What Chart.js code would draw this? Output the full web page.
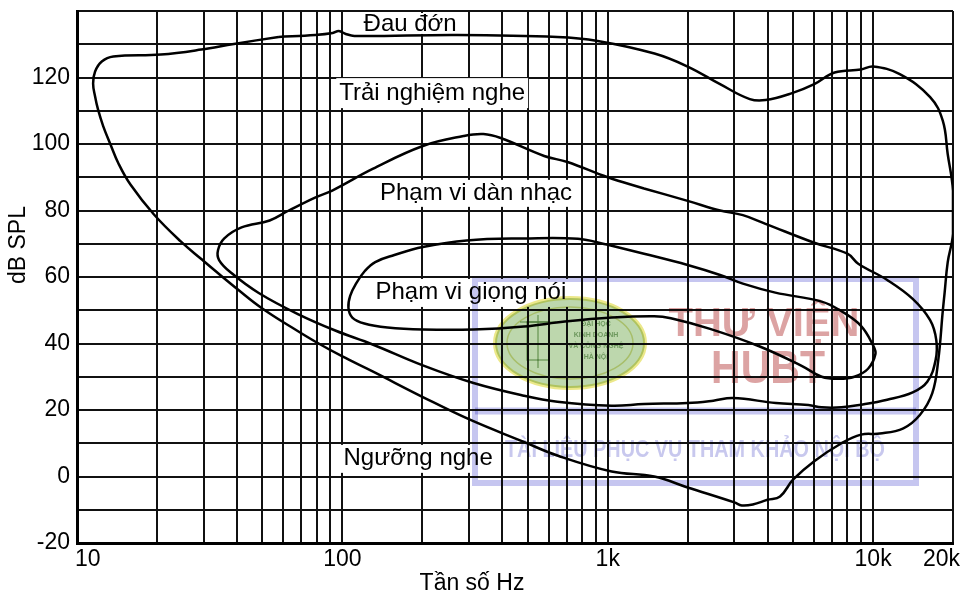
<!DOCTYPE html>
<html>
<head>
<meta charset="utf-8">
<script src="https://cdn.jsdelivr.net/npm/chart.js@4.4.0/dist/chart.umd.min.js"></script>
<style>
  html, body { margin: 0; padding: 0; background: #fff; }
  canvas { display: block; }
</style>
</head>
<body>
<canvas id="chart" width="966" height="595"></canvas>
<script>
const FONT = '"Liberation Sans", Arial, Helvetica, sans-serif';

// Logarithmic frequency grid (Hz) and the labelled frequencies
const xGridValues = [10, 20, 30, 40, 50, 60, 70, 80, 90,
  100, 200, 300, 400, 500, 600, 700, 800, 900,
  1000, 2000, 3000, 4000, 5000, 6000, 7000, 8000, 9000,
  10000, 20000];
const xTickValues = [10, 100, 1000, 10000, 20000];
const xTickLabels = ['10', '100', '1k', '10k', '20k'];
const yTickLabels = [-20, 0, 20, 40, 60, 80, 100, 120];

// Hearing area: threshold of pain on top, threshold of hearing below (Hz / dB SPL)
const hearingFreq = [57.5, 79, 92, 97, 103, 111, 270, 645, 916, 1500, 2000, 2650, 3430, 3930,
  4950, 6000, 7160, 9000, 10000, 12600, 16400, 18300, 19100, 20000, 20000, 19100, 18600,
  18300, 17600, 16700, 15000, 13000, 10600, 9000, 7600, 6000, 5000, 4460, 4000, 3520, 3200,
  3000, 2000, 1496, 1035, 646, 483, 304, 201, 130, 100, 78.9, 64.6, 49.6, 40.6, 32.9, 29.4,
  24.6, 19.5, 15.9, 14.3, 13.35, 12.55, 12.0, 11.7, 11.5, 11.7, 12.4, 13.7, 20.7, 29.4, 39];
const hearingDb = [132.2, 132.8, 133.4, 134.0, 133.1, 132.5, 132.8, 132.2, 131, 127.2, 123.3, 118, 113.5, 113.2,
  115.3, 118, 121.5, 122.4, 123.3, 121, 114.1, 107, 97, 86, 73, 64.4, 55.3,
  49.7, 35, 25, 18.5, 14.5, 12.9, 12.6, 10, 4.6, -0.9, -6, -7, -8.4, -8.7,
  -7.8, -3.3, 0, 1.5, 6.3, 10.4, 17, 23.9, 31.6, 36.1, 40.6, 44.8, 50.7, 56.1, 62.1, 65.4,
  70.7, 78.8, 87.8, 94.3, 100, 105.4, 110.4, 114.3, 118.2, 121.8, 124.8, 126.3, 126.9, 128.4, 130.1];

// Orchestral music range
const musicFreq = [1370, 2000, 2650, 3230, 3930, 6000, 8000, 8790, 11300, 14100, 16400, 17300,
  17200, 16000, 14100, 11300, 9000, 7600, 6400, 5700, 4300, 2960, 2500, 2000, 1370, 1035, 646,
  483, 312, 201, 130, 94, 68.6, 48.4, 38.2, 34.3, 34.0, 35.9, 41.7, 53.2, 62.8, 78.9,
  91.6, 130, 201, 286, 340, 395, 576, 705, 1000];
const musicDb = [86.6, 82.9, 80, 78.6, 76, 70.3, 67, 64, 59.1, 53.4, 47, 41,
  35, 28.5, 25.3, 23.1, 21.6, 20.8, 20.8, 21.5, 22.1, 23.6, 22.8, 22.1, 21.8, 21.3, 22.5,
  24.3, 28.1, 33.4, 39.7, 43.9, 48.7, 55.2, 61.2, 65.1, 68.1, 71.6, 74.9, 77, 80, 83.9,
  86, 92.5, 99.4, 102.4, 103, 101.8, 96.4, 94.6, 90];

// Speech range
const speechFreq = [1000, 1370, 2000, 2650, 3230, 4280, 6400, 7600, 9000, 10000, 10200, 9570,
  8500, 7430, 6400, 5400, 3740, 2430, 1730, 1496, 1035, 689, 483, 312, 201, 148, 121, 109,
  105.4, 107, 113, 121.5, 133, 157, 201, 294, 483, 772];
const speechDb = [69.7, 67, 63.6, 60.6, 58, 55.3, 52.6, 49.7, 45.3, 39.4, 36.8, 32.4,
  30, 29.4, 30, 33.2, 39.1, 44.4, 47.6, 48.2, 47.8, 46.6, 45.1, 44.2, 44.2, 44.8, 46, 47.8,
  50.7, 54.3, 58.2, 61.8, 64.5, 66.6, 69, 71, 71.6, 71.5];

// Region names, placed at (frequency, level) of their baseline centre
const regionLabels = ['Đau đớn', 'Trải nghiệm nghe', 'Phạm vi dàn nhạc', 'Phạm vi giọng nói', 'Ngưỡng nghe'];
const regionLabelFreq = [180, 218, 319, 305, 193];
const regionLabelDb = [134, 113.2, 83.2, 53.4, 3.5];

function toPoints(freqs, levels) {
  return freqs.map((f, i) => ({ x: f, y: levels[i] }));
}
function closeLoop(points) {
  return points.concat([points[0]]);
}

const regionLabelPlugin = {
  id: 'regionLabels',
  beforeDatasetsDraw(chart) {
    const { ctx, chartArea, scales: { x, y } } = chart;
    ctx.save();
    ctx.font = '24px ' + FONT;
    ctx.textAlign = 'center';
    ctx.textBaseline = 'alphabetic';
    regionLabels.forEach((text, i) => {
      const px = x.getPixelForValue(regionLabelFreq[i]);
      const py = y.getPixelForValue(regionLabelDb[i]);
      const m = ctx.measureText(text);
      const top = Math.max(py - m.actualBoundingBoxAscent - 3, chartArea.top + 2);
      const bottom = py + m.actualBoundingBoxDescent + 3;
      ctx.fillStyle = '#fff';
      ctx.fillRect(px - m.width / 2 - 3, top, m.width + 6, bottom - top);
      ctx.fillStyle = '#000';
      ctx.fillText(text, px, py);
    });
    ctx.restore();
  }
};

const axisTextPlugin = {
  id: 'axisText',
  afterDraw(chart) {
    const { ctx, scales: { x } } = chart;
    ctx.save();
    ctx.fillStyle = '#000';
    ctx.font = '23px ' + FONT;
    ctx.textBaseline = 'alphabetic';
    xTickValues.forEach((v, i) => {
      let px = x.getPixelForValue(v);
      if (i === 0) { ctx.textAlign = 'left'; px -= 2; }
      else if (i === xTickValues.length - 1) { ctx.textAlign = 'right'; px += 7; }
      else { ctx.textAlign = 'center'; }
      ctx.fillText(xTickLabels[i], px, 566);
    });
    ctx.textAlign = 'center';
    ctx.fillText('Tần số Hz', 472, 590);
    ctx.translate(25, 245);
    ctx.rotate(-Math.PI / 2);
    ctx.fillText('dB SPL', 0, 0);
    ctx.restore();
  }
};

// Library stamp printed over the figure
const stampPlugin = {
  id: 'stamp',
  afterDraw(chart) {
    const ctx = chart.ctx;
    ctx.save();
    ctx.globalCompositeOperation = 'multiply';

    ctx.strokeStyle = '#c6c6f0';
    ctx.lineWidth = 6;
    ctx.strokeRect(475, 279, 441, 204);
    ctx.beginPath();
    ctx.moveTo(475, 411);
    ctx.lineTo(916, 411);
    ctx.lineWidth = 7;
    ctx.stroke();

    ctx.beginPath();
    ctx.ellipse(570, 343, 75, 45, 0, 0, Math.PI * 2);
    ctx.fillStyle = '#bdd7ad';
    ctx.fill();
    ctx.lineWidth = 4;
    ctx.strokeStyle = '#ece88a';
    ctx.stroke();
    ctx.beginPath();
    ctx.ellipse(570, 343, 63, 36, 0, 0, Math.PI * 2);
    ctx.lineWidth = 1.5;
    ctx.strokeStyle = '#e2e29a';
    ctx.stroke();
    ctx.strokeStyle = '#9fbf92';
    ctx.lineWidth = 1.5;
    ctx.strokeRect(527, 322, 22, 38);
    ctx.beginPath();
    ctx.moveTo(538, 315); ctx.lineTo(538, 368);
    ctx.moveTo(520, 322); ctx.lineTo(556, 322);
    ctx.stroke();
    ctx.fillStyle = '#93b489';
    ctx.font = 'bold 7px ' + FONT;
    ctx.textAlign = 'center';
    ['ĐẠI HỌC', 'KINH DOANH', 'VÀ CÔNG NGHỆ', 'HÀ NỘI'].forEach((t, i) => {
      ctx.fillText(t, 596, 326 + i * 11);
    });

    ctx.fillStyle = '#dca3a3';
    ctx.font = 'bold 40px ' + FONT;
    ctx.textAlign = 'center';
    ctx.fillText('THƯ VIỆN', 764, 336);
    ctx.save();
    ctx.translate(768, 383);
    ctx.scale(1, 1.12);
    ctx.font = 'bold 41px ' + FONT;
    ctx.fillText('HUBT', 0, 0);
    ctx.restore();

    const note = 'TÀI LIỆU PHỤC VỤ THAM KHẢO NỘI BỘ';
    ctx.fillStyle = '#c8c8ee';
    ctx.font = 'bold 23px ' + FONT;
    const w = ctx.measureText(note).width;
    ctx.save();
    ctx.translate(695, 457);
    ctx.scale(380 / w, 1);
    ctx.fillText(note, 0, 0);
    ctx.restore();

    ctx.restore();
  }
};

const curveStyle = { borderColor: '#000', borderWidth: 2.5, pointRadius: 0, tension: 0.4, fill: false };

new Chart(document.getElementById('chart'), {
  type: 'line',
  data: {
    datasets: [
      Object.assign({ label: 'Vùng nghe', data: closeLoop(toPoints(hearingFreq, hearingDb)) }, curveStyle),
      Object.assign({ label: 'Phạm vi dàn nhạc', data: closeLoop(toPoints(musicFreq, musicDb)) }, curveStyle),
      Object.assign({ label: 'Phạm vi giọng nói', data: closeLoop(toPoints(speechFreq, speechDb)) }, curveStyle)
    ]
  },
  options: {
    responsive: false,
    animation: false,
    events: [],
    layout: { autoPadding: false, padding: { left: 0, top: 11, right: 13, bottom: 0 } },
    plugins: { legend: { display: false }, tooltip: { enabled: false } },
    scales: {
      x: {
        type: 'logarithmic',
        min: 10,
        max: 20000,
        afterBuildTicks(scale) { scale.ticks = xGridValues.map(v => ({ value: v })); },
        afterFit(scale) {
          scale.height = 52;
          scale.paddingLeft = 0;
          scale.paddingRight = 0;
        },
        ticks: { display: false },
        grid: { color: '#111', lineWidth: 2, drawTicks: false },
        border: { color: '#000', width: 3 }
      },
      y: {
        type: 'linear',
        min: -20,
        max: 140,
        afterFit(scale) {
          scale.width = 77;
          scale.paddingTop = 0;
          scale.paddingBottom = 0;
        },
        ticks: {
          stepSize: 10,
          autoSkip: false,
          padding: 7,
          color: '#000',
          font: { family: FONT, size: 23, lineHeight: 0.8 },
          callback: v => (yTickLabels.includes(v) ? String(v) : '')
        },
        grid: { color: '#111', lineWidth: 2, drawTicks: false },
        border: { color: '#000', width: 3 }
      }
    }
  },
  plugins: [regionLabelPlugin, axisTextPlugin, stampPlugin]
});
</script>
</body>
</html>
